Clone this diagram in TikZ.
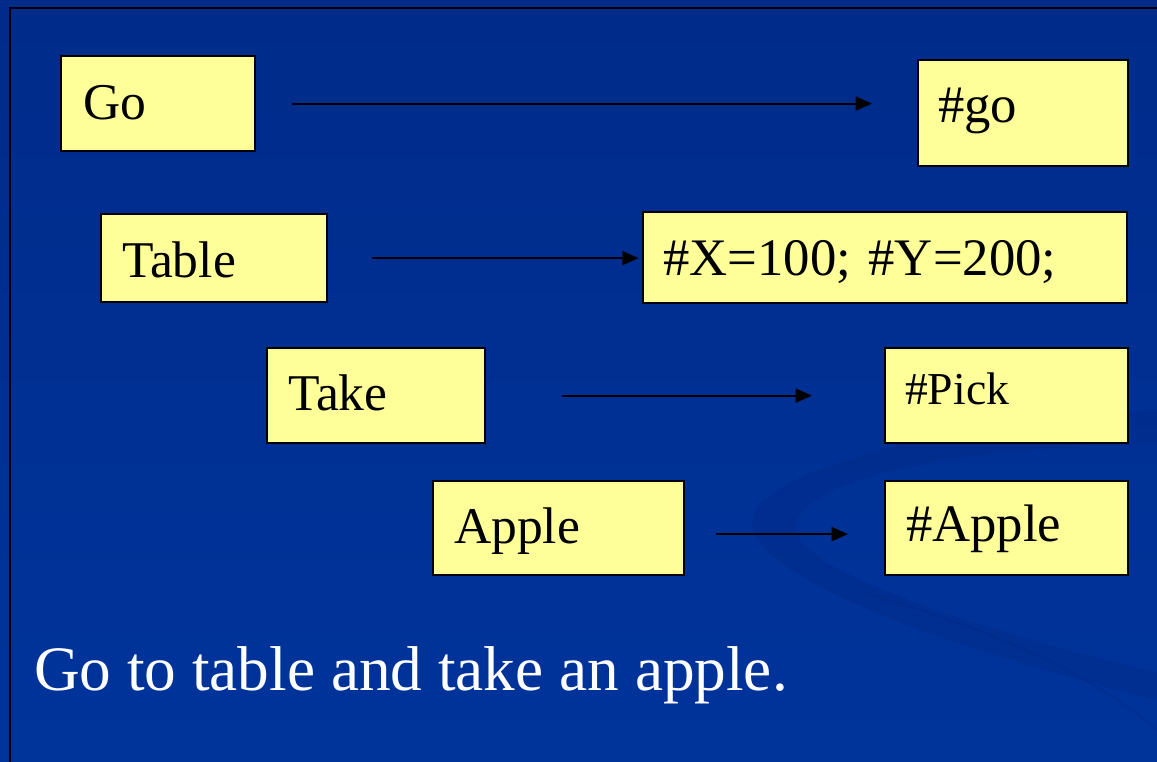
\documentclass[tikz,border=0pt]{standalone}
\usepackage{fontspec}
\setmainfont{Liberation Serif}
\usetikzlibrary{arrows.meta}
\definecolor{slideblue}{RGB}{0,52,155}
\definecolor{slidetop}{RGB}{0,43,138}
\definecolor{swirlblue}{RGB}{0,38,128}
\definecolor{cardyellow}{RGB}{255,255,153}

\begin{document}
\begin{tikzpicture}[x=0.03cm, y=-0.03cm,
	card/.style={draw=black, line width=1.9pt, fill=cardyellow, anchor=north west, inner ysep=0pt, align=left, text=black},
	flow/.style={line width=1.7pt, -{Triangle[length=14pt, width=12pt]}}]
	\useasboundingbox (0,0) rectangle (1157,762);
	\shade[top color=slidetop, bottom color=slideblue] (0,0) rectangle (1157,762);
	\fill[swirlblue, opacity=0.28] (1157,410) .. controls (950,420) and (760,470) .. (752,520)
		.. controls (745,575) and (950,650) .. (1157,700) -- (1157,672)
		.. controls (980,630) and (790,570) .. (796,525)
		.. controls (800,480) and (960,445) .. (1157,445) -- cycle;
	\draw[swirlblue, opacity=0.35, line width=1.5pt] (860,592) .. controls (1000,630) and (1100,680) .. (1157,730);
	\draw[line width=1.2pt] (10,762) -- (10,8) -- (1157,8);
	\foreach \nm/\x/\y/\w/\h/\b/\p/\fs/\txt in {
		go/60/55/194/95/63/22/44/Go,
		gotag/917/59/210/106/62/20/45/{\#go},
		table/100/213/226/88/63/21/44/Table,
		xy/642/211/484/91/63/20/45/{\#X=100; \#Y=200;},
		take/266/347/218/95/62/21/44/Take,
		pick/884/347/243/95/56/20/39/{\#Pick},
		apple/432/480/251/94/62/21/44/Apple,
		appletag/884/480/243/94/60/21/45/{\#Apple}} {
		\pgfmathsetmacro\tw{(\w-2*\p)*0.03}
		\pgfmathsetmacro\th{\b*0.03}
		\pgfmathsetmacro\td{(\h-\b)*0.03}
		\pgfmathsetmacro\ps{\p*0.03}
		\node[card, inner xsep=\ps cm, text width=\tw cm, text height=\th cm, text depth=\td cm,
			font=\fontsize{\fs}{\fs}\selectfont] (\nm) at (\x,\y) {\txt};
	}
	\draw[flow, shorten <=1.08cm, shorten >=1.35cm] (go) -- (go -| gotag.west);
	\draw[flow, shorten <=1.32cm, shorten >=0.1cm] (table) -- (table -| xy.west);
	\draw[flow, shorten <=2.28cm, shorten >=2.16cm] (take) -- (take -| pick.west);
	\draw[flow, shorten <=0.93cm, shorten >=1.08cm] ([yshift=-0.18cm]apple.east) -- ([yshift=-0.18cm]apple.east -| appletag.west);
	\node[anchor=base west, text=white, font=\fontsize{54}{54}\selectfont] (caption) at (30,690) {Go to table and take an apple.};
\end{tikzpicture}
\end{document}
